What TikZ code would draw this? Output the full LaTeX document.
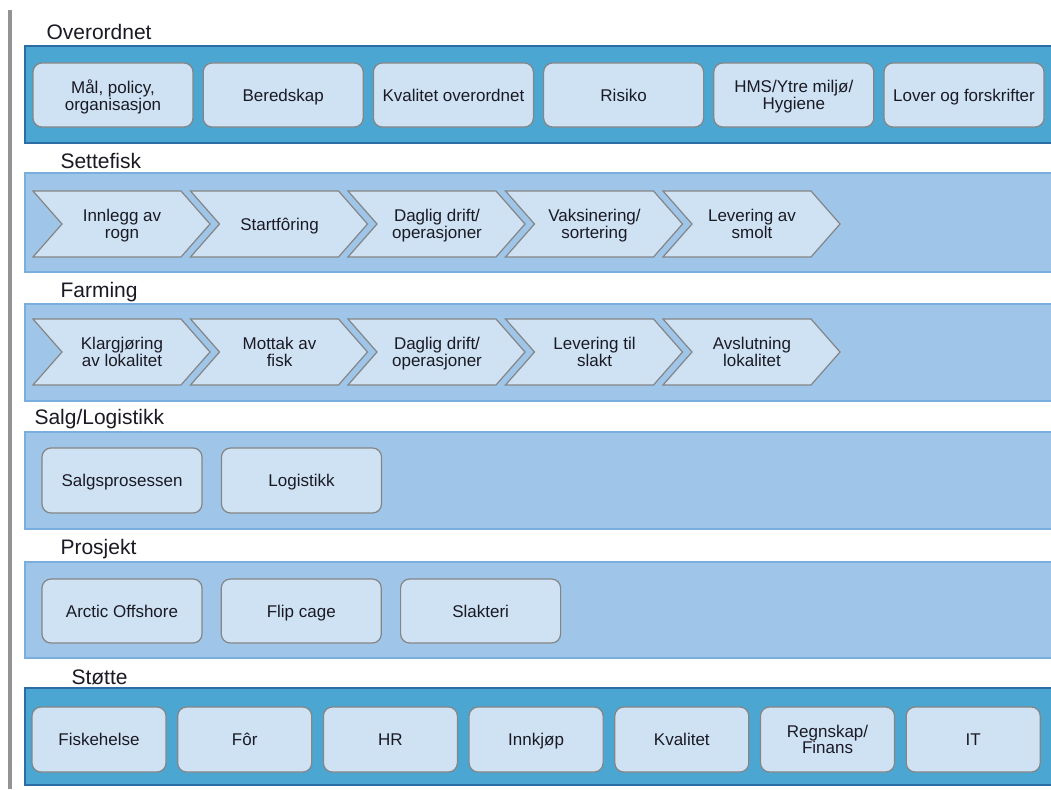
\documentclass[tikz,border=0pt]{standalone}
\usepackage{fontspec}
\setmainfont{Liberation Sans}
\definecolor{bandA}{HTML}{4BA6D1}
\definecolor{bandAline}{HTML}{2C6DA6}
\definecolor{bandB}{HTML}{9FC5E8}
\definecolor{bandBline}{HTML}{7AAEDE}
\definecolor{boxfill}{HTML}{CFE2F3}
\definecolor{boxline}{HTML}{858585}
\definecolor{txt}{HTML}{1A1A24}

\begin{document}
\begin{tikzpicture}[x=1pt,y=-1pt,
        title/.style={anchor=base west,font=\fontsize{21}{24}\selectfont,text=txt},
        procbox/.style={draw=boxline,fill=boxfill,line width=1.2pt,rounded corners=9pt,
            inner sep=0pt,align=center,text depth=0pt,text=txt,font=\fontsize{17}{16.5}\selectfont},
        chevron/.style={draw=boxline,fill=boxfill,line width=1.2pt},
        chevtext/.style={align=center,text depth=0pt,text=txt,font=\fontsize{17}{16.5}\selectfont}]
    \useasboundingbox (0,0) rectangle (1051,789);
    \fill[white] (0,0) rectangle (1051,789);
    \fill[gray!85] (8,10) rectangle (12,789);

    \draw[fill=bandA,draw=bandAline,line width=2pt] (25,46) rectangle (1053,143);
    \draw[fill=bandB,draw=bandBline,line width=1.5pt] (25,173) rectangle (1053,272);
    \draw[fill=bandB,draw=bandBline,line width=1.5pt] (25,304) rectangle (1053,401);
    \draw[fill=bandB,draw=bandBline,line width=1.5pt] (25,432) rectangle (1053,529);
    \draw[fill=bandB,draw=bandBline,line width=1.5pt] (25,562) rectangle (1053,658);
    \draw[fill=bandA,draw=bandAline,line width=2pt] (25,688) rectangle (1053,785);

    \node[title] (tover) at (43,39.5) {Overordnet};
    \node[title] (tsette) at (57,168) {Settefisk};
    \node[title] (tfarm) at (57,297) {Farming};
    \node[title] (tsalg) at (31,424) {Salg/Logistikk};
    \node[title] (tpros) at (57,554) {Prosjekt};
    \node[title] (tstotte) at (68,684) {Støtte};

    \foreach \t [count=\i] in {{Mål, policy,\\organisasjon}, Beredskap, Kvalitet overordnet,
            Risiko, {HMS/Ytre miljø/\\Hygiene}, Lover og forskrifter}
        \node[procbox,minimum width=160pt,minimum height=64pt] (o\i) at ({113+170.2*(\i-1)},95) {\t};

    \foreach \t [count=\i] in {{Innlegg av\\rogn}, Startfôring, {Daglig drift/\\operasjoner},
            {Vaksinering/\\sortering}, {Levering av\\smolt}} {
        \draw[chevron] ({33+157.5*(\i-1)},191) -- ++(148,0) -- ++(29,33) -- ++(-29,33)
            -- ++(-148,0) -- ++(29,-33) -- cycle;
        \node[chevtext] (s\i) at ({122+157.5*(\i-1)},224) {\t};
    }

    \foreach \t [count=\i] in {{Klargjøring\\av lokalitet}, {Mottak av\\fisk}, {Daglig drift/\\operasjoner},
            {Levering til\\slakt}, {Avslutning\\lokalitet}} {
        \draw[chevron] ({33+157.5*(\i-1)},319) -- ++(148,0) -- ++(29,33) -- ++(-29,33)
            -- ++(-148,0) -- ++(29,-33) -- cycle;
        \node[chevtext] (f\i) at ({122+157.5*(\i-1)},352) {\t};
    }

    \foreach \t [count=\i] in {Salgsprosessen, Logistikk}
        \node[procbox,minimum width=160pt,minimum height=65pt] (l\i) at ({122+179.5*(\i-1)},480.5) {\t};

    \foreach \t [count=\i] in {Arctic Offshore, Flip cage, Slakteri}
        \node[procbox,minimum width=160pt,minimum height=64pt] (p\i) at ({122+179.3*(\i-1)},611) {\t};

    \foreach \t [count=\i] in {Fiskehelse, Fôr, HR, Innkjøp, Kvalitet, {Regnskap/\\Finans}, IT}
        \node[procbox,minimum width=134pt,minimum height=65pt] (st\i) at ({99+145.7*(\i-1)},739.5) {\t};
\end{tikzpicture}
\end{document}
